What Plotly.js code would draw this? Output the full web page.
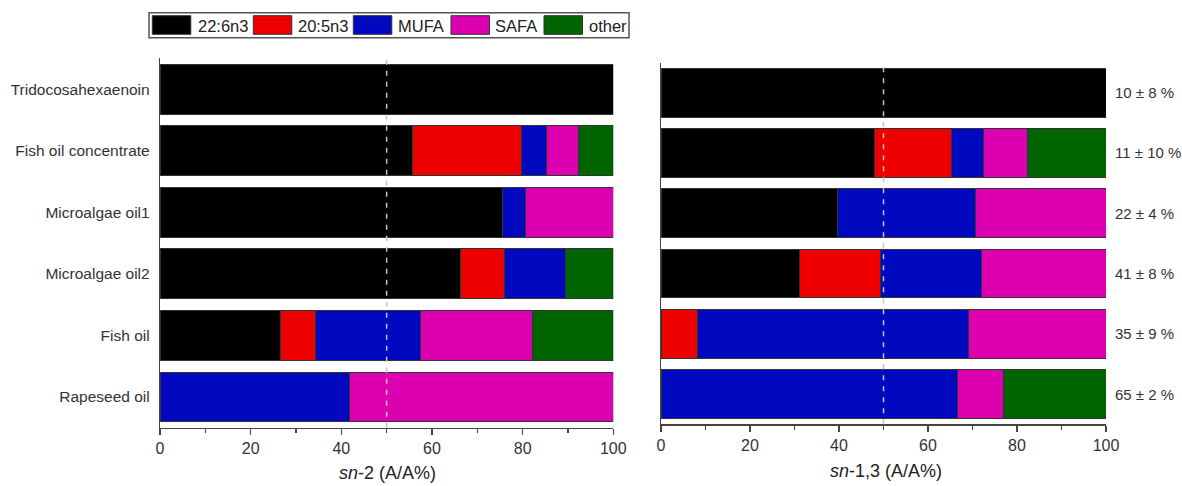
<!DOCTYPE html>
<html>
<head>
<meta charset="utf-8">
<script src="https://cdn.plot.ly/plotly-3.0.1.min.js"></script>
<style>html,body{margin:0;padding:0;background:#fff;}#chart{width:1182px;height:486px;}</style>
</head>
<body>
<div id="chart"></div>
<script>
// ---- data ----
const categories = ['Tridocosahexaenoin', 'Fish oil concentrate', 'Microalgae oil1', 'Microalgae oil2', 'Fish oil', 'Rapeseed oil'];
const seriesNames = ['22:6n3', '20:5n3', 'MUFA', 'SAFA', 'other'];

// sn-2 (A/A%)
const dha_sn2   = [100, 55.7, 75.5, 66.4, 26.5, 0];
const epa_sn2   = [0, 24.1, 0, 9.5, 7.7, 0];
const mufa_sn2  = [0, 5.4, 5.1, 13.6, 23.3, 41.8];
const safa_sn2  = [0, 7.1, 19.4, 0, 24.6, 58.2];
const other_sn2 = [0, 7.7, 0, 10.5, 17.9, 0];

// sn-1,3 (A/A%)
const dha_sn13   = [100, 48.0, 39.6, 31.2, 0, 0];
const epa_sn13   = [0, 17.3, 0, 18.2, 8.1, 0];
const mufa_sn13  = [0, 7.1, 31.0, 22.6, 60.9, 66.6];
const safa_sn13  = [0, 10.0, 29.4, 28.0, 31.0, 10.4];
const other_sn13 = [0, 17.6, 0, 0, 0, 23.0];

const sideLabels = ['10 ± 8 %', '11 ± 10 %', '22 ± 4 %', '41 ± 8 %', '35 ± 9 %', '65 ± 2 %'];
const xTickVals = [0, 20, 40, 60, 80, 100];

// ---- styling ----
const W = 1182, H = 486;
const colors = ['#000000', '#ee0000', '#0008c0', '#dc00b0', '#006400'];
const FONT = '"Liberation Sans", Arial, sans-serif';
const px = x => x / W;
const py = y => (H - y) / H;

const sn2 = [dha_sn2, epa_sn2, mufa_sn2, safa_sn2, other_sn2];
const sn13 = [dha_sn13, epa_sn13, mufa_sn13, safa_sn13, other_sn13];

const traces = [];
function addTraces(sets, xa, ya) {
  sets.forEach((vals, i) => {
    traces.push({
      type: 'bar', orientation: 'h',
      name: seriesNames[i],
      y: categories,
      x: vals.map(v => v === 0 ? null : v),
      xaxis: xa, yaxis: ya,
      width: 0.81,
      marker: {color: colors[i], line: {color: '#333', width: 1}},
      showlegend: false,
      hoverinfo: 'x+name'
    });
  });
}
addTraces(sn2, 'x', 'y');
addTraces(sn13, 'x2', 'y2');

const xaxisBase = {
  range: [0, 100], tickvals: xTickVals, ticks: 'outside', ticklen: 6, tickwidth: 1.2,
  tickcolor: '#444', showline: true, linecolor: '#444', linewidth: 1.2,
  showgrid: false, zeroline: false,
  tickfont: {family: FONT, size: 16, color: '#333'},
  minor: {dtick: 10, tick0: 0, ticks: 'outside', ticklen: 4, tickcolor: '#444', tickwidth: 1.2, showgrid: false},
  fixedrange: true
};
const yaxisBase = {
  type: 'category', categoryorder: 'array', categoryarray: categories,
  range: [categories.length - 0.5, -0.5],
  showline: true, linecolor: '#444', linewidth: 1.2, ticks: '',
  showgrid: false, zeroline: false, fixedrange: true
};

const shapes = [];
// dashed 50% reference lines
[['x', 'y'], ['x2', 'y2']].forEach(([xa, ya]) => {
  shapes.push({type: 'line', xref: xa, yref: ya + ' domain', x0: 50, x1: 50, y0: 0, y1: 1,
    line: {color: '#c4c4c4', width: 1.5, dash: '5px,6px'}, layer: 'above'});
});

// custom legend
shapes.push({type: 'rect', xref: 'paper', yref: 'paper', x0: px(149), x1: px(629), y0: py(37.7), y1: py(12.7),
  line: {color: '#555', width: 1.5}, fillcolor: '#fff'});
const swX = [152.3, 253.3, 353.3, 451, 544];
const txX = [195.7, 296, 396, 493.3, 586.7];
const annotations = [];
seriesNames.forEach((n, i) => {
  shapes.push({type: 'rect', xref: 'paper', yref: 'paper', x0: px(swX[i]), x1: px(swX[i] + 38.5), y0: py(34.3), y1: py(15.7),
    line: {color: '#333', width: 1}, fillcolor: colors[i]});
  annotations.push({xref: 'paper', yref: 'paper', x: px(txX[i]), y: py(25.5), xanchor: 'left', yanchor: 'middle',
    text: n, showarrow: false, font: {family: FONT, size: 16.5, color: '#222'}});
});

// right side labels
categories.forEach((c, i) => {
  annotations.push({xref: 'x2', yref: 'y2', x: 100, y: c, xanchor: 'left', yanchor: 'middle', xshift: 7,
    text: sideLabels[i], showarrow: false, font: {family: FONT, size: 15, color: '#333'}});
});

// axis titles
annotations.push({xref: 'paper', yref: 'paper', x: px(387), y: py(473), xanchor: 'center', yanchor: 'middle',
  text: '<i>sn</i>-2 (A/A%)', showarrow: false, font: {family: FONT, size: 18, color: '#222'}});
annotations.push({xref: 'paper', yref: 'paper', x: px(885.5), y: py(471), xanchor: 'center', yanchor: 'middle',
  text: '<i>sn</i>-1,3 (A/A%)', showarrow: false, font: {family: FONT, size: 18, color: '#222'}});

const layout = {
  width: W, height: H,
  margin: {l: 0, r: 0, t: 0, b: 0},
  paper_bgcolor: '#fff', plot_bgcolor: '#fff',
  barmode: 'stack',
  showlegend: false,
  font: {family: FONT, color: '#333'},
  xaxis: Object.assign({}, xaxisBase, {domain: [px(160), px(613.3)], anchor: 'y'}),
  xaxis2: Object.assign({}, xaxisBase, {domain: [px(661), px(1106)], anchor: 'y2'}),
  yaxis: Object.assign({}, yaxisBase, {domain: [py(427.8), py(58.4)], anchor: 'x',
    showticklabels: true, ticklabelstandoff: 6, tickfont: {family: FONT, size: 15.5, color: '#333'}}),
  yaxis2: Object.assign({}, yaxisBase, {domain: [py(424.3), py(62.5)], anchor: 'x2', showticklabels: false}),
  shapes: shapes,
  annotations: annotations
};

Plotly.newPlot('chart', traces, layout, {displayModeBar: false, staticPlot: true});
</script>
</body>
</html>
